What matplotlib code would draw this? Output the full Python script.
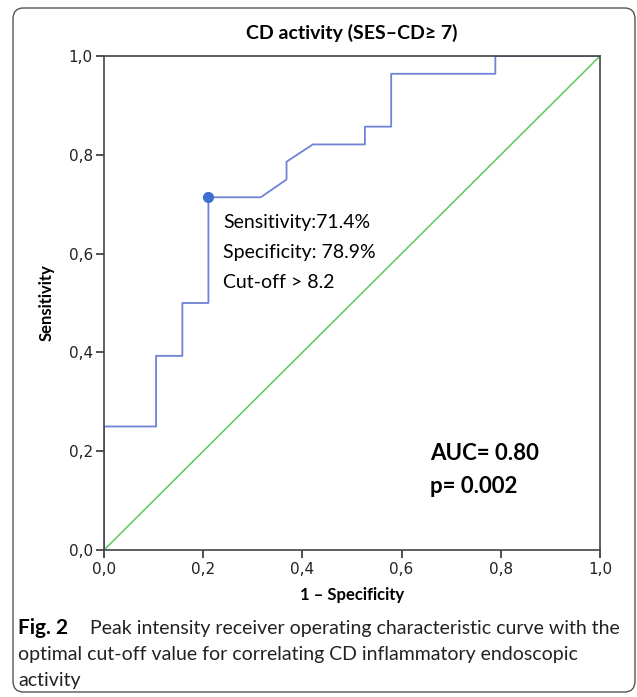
import matplotlib.pyplot as plt
from matplotlib.patches import FancyBboxPatch

# ROC curve points (1 - specificity, sensitivity)
fpr = [0.0, 0.0, 0.105, 0.105, 0.158, 0.158, 0.2105, 0.2105, 0.316, 0.368,
       0.368, 0.421, 0.526, 0.526, 0.579, 0.579, 0.789, 0.789, 1.0]
tpr = [0.0, 0.25, 0.25, 0.393, 0.393, 0.5, 0.5, 0.714, 0.714, 0.75,
       0.786, 0.821, 0.821, 0.857, 0.857, 0.964, 0.964, 1.0, 1.0]
cut_x, cut_y = 0.2105, 0.714
ticks = [0.0, 0.2, 0.4, 0.6, 0.8, 1.0]
tick_labels = ["0,0", "0,2", "0,4", "0,6", "0,8", "1,0"]

fam = ["Lato", "DejaVu Sans"]

fig = plt.figure(figsize=(6.37, 6.97), dpi=100)
ax = fig.add_axes([104 / 637, 147 / 697, 496 / 637, 494 / 697])

ax.plot([0, 1], [0, 1], c="#5cc85c", lw=1.1)
ax.plot(fpr, tpr, c="#6f82d6", lw=1.3)
ax.plot([cut_x], [cut_y], "o", c="#3d6fd0", ms=7)

ax.set_xlim(0, 1)
ax.set_ylim(0, 1)
ax.set_xticks(ticks)
ax.set_xticklabels(tick_labels)
ax.set_yticks(ticks)
ax.set_yticklabels(tick_labels)
ax.tick_params(direction="out", length=6, width=1.1, labelsize=11, colors="#222")
ax.tick_params(axis="y", pad=2)
ax.tick_params(axis="x", pad=3)
for s in ax.spines.values():
    s.set_color("#444")
    s.set_linewidth(1.2)

ax.set_xlabel("1 – Specificity", fontsize=12, fontweight="bold", family=fam)
ax.set_ylabel("Sensitivity", fontsize=12, fontweight="bold", family=fam)
ax.xaxis.set_label_coords(0.5, -0.074)
ax.yaxis.set_label_coords(-0.099, 0.5)

fig.text(352 / 637, 1 - 33 / 697, "CD activity (SES–CD≥ 7)", ha="center", va="center",
         fontsize=14, fontweight="bold", family=fam)

ax.text(0.24, 0.652, "Sensitivity:71.4%", fontsize=14, family=fam, va="baseline")
ax.text(0.24, 0.591, "Specificity: 78.9%", fontsize=14, family=fam, va="baseline")
ax.text(0.24, 0.530, "Cut-off > 8.2", fontsize=14, family=fam, va="baseline")

ax.text(0.657, 0.182, "AUC= 0.80", fontsize=16, fontweight="bold", family=fam, va="baseline")
ax.text(0.657, 0.115, "p= 0.002", fontsize=16, fontweight="bold", family=fam, va="baseline")

# caption
fig.text(18 / 637, 1 - 634 / 697, "Fig. 2", fontsize=15, fontweight="bold", family=fam,
         va="baseline")
fig.text(90 / 637, 1 - 634 / 697,
         "Peak intensity receiver operating characteristic curve with the",
         fontsize=14, family=fam, va="baseline", color="#222")
fig.text(18 / 637, 1 - 660 / 697,
         "optimal cut-off value for correlating CD inflammatory endoscopic",
         fontsize=14, family=fam, va="baseline", color="#222")
fig.text(18 / 637, 1 - 686 / 697, "activity",
         fontsize=14, family=fam, va="baseline", color="#222")

border = FancyBboxPatch((13 / 637, 5 / 697), 622 / 637, 684 / 697,
                        boxstyle="round,pad=0,rounding_size=0.016",
                        transform=fig.transFigure, fill=False, ec="#555", lw=1.0)
fig.patches.append(border)

fig.savefig("out.png", dpi=100)
plt.close()
